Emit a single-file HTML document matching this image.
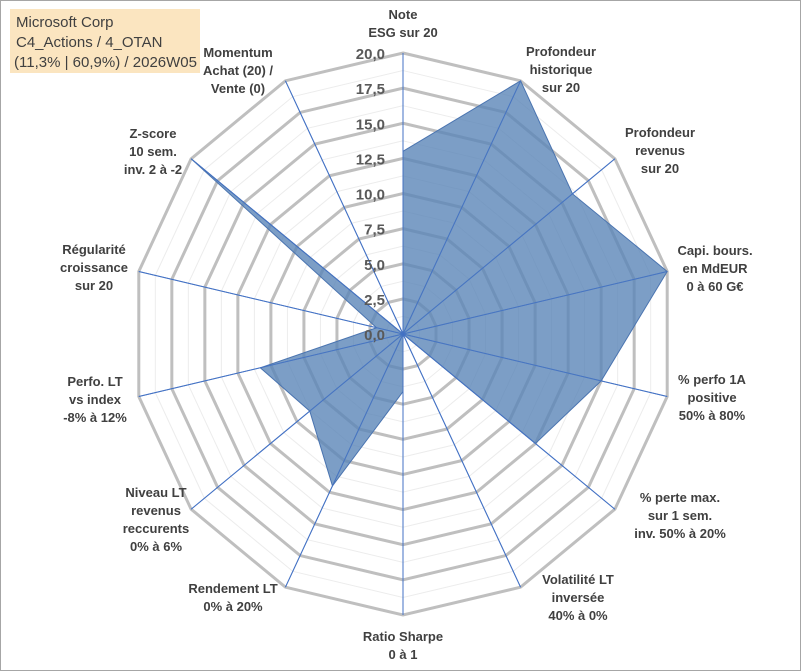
<!DOCTYPE html>
<html><head><meta charset="utf-8"><style>
html,body{margin:0;padding:0;background:#fff}
svg{display:block}
text{font-family:"Liberation Sans",sans-serif}
</style></head><body>
<svg id="chart" width="801" height="671" viewBox="0 0 801 671">
<rect x="0.5" y="0.5" width="800" height="670" fill="#fff" stroke="#a6a6a6"/>
<g id="grid"></g>
<g id="axes"></g>
<g id="series"></g>
<g id="ticks"></g>
<g id="labels"></g>
<g>
<rect x="10" y="9" width="190" height="64" fill="#fbe5c0"/>
<text x="16" y="27" font-size="15" fill="#404040">Microsoft Corp</text>
<text x="16" y="47" font-size="15" fill="#404040">C4_Actions / 4_OTAN</text>
<text x="14" y="67" font-size="15" fill="#404040" textLength="183" lengthAdjust="spacingAndGlyphs">(11,3% | 60,9%) / 2026W05</text>
</g>
</svg>
<script>
const categories = [
 ["Note","ESG sur 20"],
 ["Profondeur","historique","sur 20"],
 ["Profondeur","revenus","sur 20"],
 ["Capi. bours.","en MdEUR","0 à 60 G€"],
 ["% perfo 1A","positive","50% à 80%"],
 ["% perte max.","sur 1 sem.","inv. 50% à 20%"],
 ["Volatilité LT","inversée","40% à 0%"],
 ["Ratio Sharpe","0 à 1"],
 ["Rendement LT","0% à 20%"],
 ["Niveau LT","revenus","reccurents","0% à 6%"],
 ["Perfo. LT","vs index","-8% à 12%"],
 ["Régularité","croissance","sur 20"],
 ["Z-score","10 sem.","inv. 2 à -2"],
 ["Momentum","Achat (20) /","Vente (0)"]
];
const values = [13, 20, 16, 20, 15, 12.5, 0, 4.1, 12, 8.8, 10.8, 2, 20, 0];
const tickValues = [0, 2.5, 5, 7.5, 10, 12.5, 15, 17.5, 20];
const tickLabels = ["0,0","2,5","5,0","7,5","10,0","12,5","15,0","17,5","20,0"];
const labelAnchors = [[403,19],[561,56],[660,137],[715,255],[712,384],[680,502],[578,584],[403,641],[233,593],[156,497],[95,386],[94,254],[153,138],[238,57]];

const NS="http://www.w3.org/2000/svg";
const cx=403, cy=334, rx=271, ry=281, vmax=20;
const n=categories.length;
function pt(i,v){const a=i*2*Math.PI/n;return [cx+Math.sin(a)*rx*v/vmax, cy-Math.cos(a)*ry*v/vmax];}
function mk(tag,attrs,parent){const e=document.createElementNS(NS,tag);for(const k in attrs)e.setAttribute(k,attrs[k]);parent.appendChild(e);return e;}
const grid=document.getElementById('grid');
for(let k=1;k<=16;k++){
 const v=k*1.25;const major=(k%2===0);
 const pts=[];for(let i=0;i<n;i++)pts.push(pt(i,v).join(','));
 const p=mk('polygon',{points:pts.join(' '),fill:'none',stroke:major?'#bfbfbf':'#ececec','stroke-width':major?3:1},grid);
 
 
}
const axes=document.getElementById('axes');
for(let i=0;i<n;i++){
 const [x,y]=pt(i,vmax);
 const l=mk('line',{x1:cx,y1:cy,x2:x,y2:y,stroke:'#4472c4','stroke-width':1},axes);
 
 
}
const series=document.getElementById('series');
const sp=values.map((v,i)=>pt(i,v).join(',')).join(' ');
const poly=mk('polygon',{points:sp,fill:'#5b86b8','fill-opacity':0.8,stroke:'#4a74b0','stroke-width':1},series);


for(let i=0;i<n;i++){
 const [x,y]=pt(i,vmax);
 const l=mk('line',{x1:cx,y1:cy,x2:x,y2:y,stroke:'#4472c4','stroke-width':1,'stroke-opacity':0.8},series);
 
 
}
const ticks=document.getElementById('ticks');
tickValues.forEach((v,j)=>{
 const y=cy-ry*v/vmax;
 const t=mk('text',{x:385,y:y+6,'text-anchor':'end','font-size':15,'font-weight':'bold',fill:'#595959'},ticks);
 t.textContent=tickLabels[j];
 
 
});
const labels=document.getElementById('labels');
categories.forEach((lines,i)=>{
 const [x,y]=labelAnchors[i];
 const t=mk('text',{x:x,y:y,'text-anchor':'middle','font-size':13,'font-weight':'bold',fill:'#404040'},labels);
 
 
 lines.forEach((s,k)=>{const ts=mk('tspan',{x:x,y:y+k*18},t);ts.textContent=s;});
});
</script>
</body></html>
